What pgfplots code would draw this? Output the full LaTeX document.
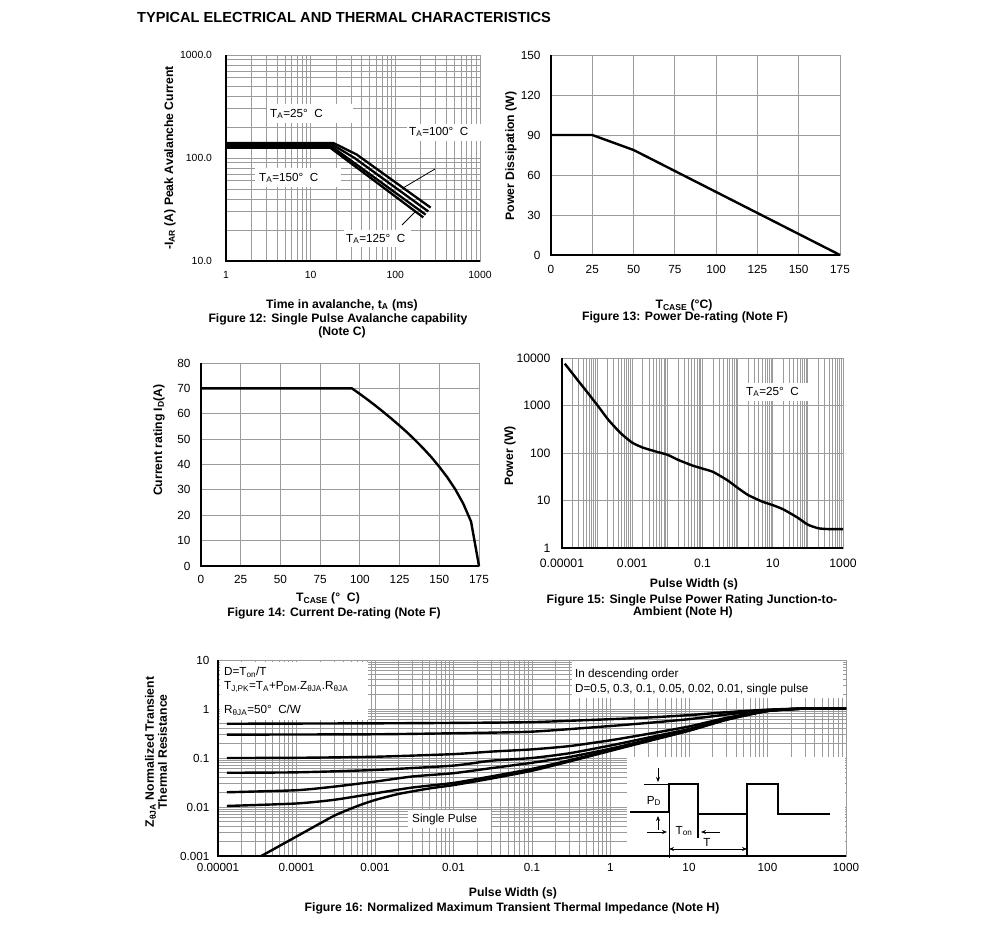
\documentclass[border=0pt]{standalone}
\usepackage{fontspec}
\setmainfont{Liberation Sans}
\usepackage{pgfplots}
\pgfplotsset{compat=1.18}
\usetikzlibrary{arrows.meta}
\definecolor{gridc}{RGB}{155,155,155}
\newcommand\fs{\fontsize{11.7bp}{13bp}\selectfont}
\newcommand\fb{\fontsize{12.2bp}{14bp}\selectfont\bfseries}
\pgfplotsset{
  ds/.style={
    scale only axis, anchor=south west, clip=false,
    axis line style={draw=gridc, line width=0.9bp},
    major grid style={draw=gridc, line width=0.9bp},
    minor grid style={draw=gridc, line width=0.9bp},
    major tick length=0pt, minor tick length=0pt,
    /pgf/number format/assume math mode=true,
  },
  dline/.style={black, line width=2.4bp, line join=round, no marks, smooth, tension=0.35},
}
\def\mxlog{2e-5,3e-5,4e-5,5e-5,6e-5,7e-5,8e-5,9e-5,2e-4,3e-4,4e-4,5e-4,6e-4,7e-4,8e-4,9e-4,0.002,0.003,0.004,0.005,0.006,0.007,0.008,0.009,0.02,0.03,0.04,0.05,0.06,0.07,0.08,0.09,0.2,0.3,0.4,0.5,0.6,0.7,0.8,0.9,2,3,4,5,6,7,8,9,20,30,40,50,60,70,80,90,200,300,400,500,600,700,800,900}
\begin{document}
\begin{tikzpicture}
\path[use as bounding box] (0,0) rectangle (991bp,-930bp);

% ---------- Figure 12
\begin{axis}[ds, at={(226bp,-261bp)}, width=254bp, height=206bp,
  xmode=log, ymode=log, xmin=1, xmax=1000, ymin=10, ymax=1000,
  xtick={1,10,100,1000}, xticklabels={1,10,100,1000},
  ytick={10,100,1000}, yticklabels={10.0,100.0,1000.0},
  minor xtick={2,3,4,5,6,7,8,9,20,30,40,50,60,70,80,90,200,300,400,500,600,700,800,900},
  minor ytick={20,30,40,50,60,70,80,90,200,300,400,500,600,700,800,900},
  grid=both, tick label style={font=\fontsize{10.4bp}{12bp}\selectfont},
  yticklabel style={xshift=-10.5bp}, xticklabel style={yshift=-7bp}]
\addplot[black, line width=2.3bp, line join=round] coordinates {(1,140) (18.5,140) (35,108) (261,33)};
\addplot[black, line width=2.3bp, line join=round] coordinates {(1,135) (18,135) (33,100) (245,30.3)};
\addplot[black, line width=2.3bp, line join=round] coordinates {(1,130) (17.5,130) (228,28.2)};
\addplot[black, line width=2.3bp, line join=round] coordinates {(1,126) (17,126) (214,26.5)};
\end{axis}

% ---------- Figure 13
\begin{axis}[ds, at={(551bp,-255bp)}, width=289bp, height=200bp,
  xmin=0, xmax=175, ymin=0, ymax=150,
  xtick={0,25,...,175}, ytick={0,30,...,150}, grid=major,
  tick label style={font=\fontsize{11.8bp}{13bp}\selectfont},
  yticklabel style={xshift=-7bp}, xticklabel style={yshift=-7bp}]
\addplot[black, line width=2.4bp, line join=round] coordinates {(0,90) (25,90) (50,78.75) (175,0)};
\end{axis}

% ---------- Figure 14
\begin{axis}[ds, at={(201bp,-566bp)}, width=278bp, height=203bp,
  xmin=0, xmax=175, ymin=0, ymax=80,
  xtick={0,25,...,175}, ytick={0,10,...,80}, grid=major,
  tick label style={font=\fontsize{11.8bp}{13bp}\selectfont},
  yticklabel style={xshift=-7bp}, xticklabel style={yshift=-6bp}]
\addplot[black, line width=2.4bp, line join=round] coordinates {(0,70) (95,70) (100,67.8) (105,65.5) (110,63.1) (115,60.6) (120,58.0) (125,55.3) (130,52.5) (135,49.5) (140,46.3) (145,42.9) (150,39.1) (155,35.0) (160,30.3) (165,24.7) (170,17.5) (175,0)};
\end{axis}

% ---------- Figure 15
\begin{axis}[ds, at={(562bp,-548bp)}, width=281bp, height=190bp,
  xmode=log, ymode=log, xmin=1e-5, xmax=1000, ymin=1, ymax=10000,
  xtick={1e-5,1e-4,1e-3,1e-2,0.1,1,10,100,1000},
  xticklabels={0.00001,,0.001,,0.1,,10,,1000},
  ytick={1,10,100,1000,10000}, yticklabels={1,10,100,1000,10000},
  minor xtick/.expand once={\mxlog},
  xmajorgrids, xminorgrids, ymajorgrids,
  tick label style={font=\fontsize{12.2bp}{13bp}\selectfont},
  yticklabel style={xshift=-8bp}, xticklabel style={yshift=-7bp}]
\addplot[dline] coordinates {(1.2e-5,7600) (2e-5,4700) (3e-5,3200) (5e-5,1990) (1e-4,1030) (2e-4,520) (3e-4,370) (5e-4,250) (1e-3,165) (2e-3,130) (5e-3,106) (1e-2,92) (2e-2,72) (5e-2,55) (0.1,47) (0.2,40) (0.5,27) (1,18.5) (2,13) (5,9.5) (10,8) (20,6.5) (50,4.4) (100,3.1) (200,2.6) (400,2.5) (1000,2.5)};
\end{axis}

% ---------- Figure 16
\begin{axis}[ds, at={(218bp,-856bp)}, width=628bp, height=196bp,
  xmode=log, ymode=log, xmin=1e-5, xmax=1000, ymin=0.001, ymax=10,
  xtick={1e-5,1e-4,1e-3,1e-2,0.1,1,10,100,1000},
  xticklabels={0.00001,0.0001,0.001,0.01,0.1,1,10,100,1000},
  ytick={0.001,0.01,0.1,1,10}, yticklabels={0.001,0.01,0.1,1,10},
  minor xtick/.expand once={\mxlog},
  minor ytick={0.002,0.003,0.004,0.005,0.006,0.007,0.008,0.009,0.02,0.03,0.04,0.05,0.06,0.07,0.08,0.09,0.2,0.3,0.4,0.5,0.6,0.7,0.8,0.9,2,3,4,5,6,7,8,9},
  grid=both, tick label style={font=\fontsize{11.7bp}{13bp}\selectfont},
  xticklabel style={yshift=-4bp}, yticklabel style={xshift=-5bp}]
\addplot[dline] coordinates {(1.3e-5,0.5) (1e-3,0.51) (1e-2,0.52) (0.1,0.54) (1,0.62) (3,0.67) (10,0.75) (30,0.86) (100,0.97) (300,1.02) (1000,1.02)};
\addplot[dline] coordinates {(1.3e-5,0.3) (1e-3,0.305) (1e-2,0.32) (0.1,0.345) (1,0.45) (3,0.52) (10,0.62) (30,0.77) (100,0.95) (300,1.02) (1000,1.02)};
\addplot[dline] coordinates {(1.3e-5,0.1) (1e-4,0.101) (1e-3,0.106) (1e-2,0.12) (3e-2,0.135) (0.1,0.15) (0.3,0.175) (1,0.23) (3,0.31) (10,0.44) (30,0.66) (100,0.93) (300,1.02) (1000,1.02)};
\addplot[dline] coordinates {(1.3e-5,0.05) (1e-4,0.051) (1e-3,0.057) (1e-2,0.07) (3e-2,0.088) (0.1,0.1) (0.3,0.125) (1,0.18) (3,0.26) (10,0.39) (30,0.63) (100,0.92) (300,1.02) (1000,1.02)};
\addplot[dline] coordinates {(1.3e-5,0.02) (1e-4,0.022) (3e-4,0.026) (1e-3,0.033) (3e-3,0.042) (1e-2,0.049) (3e-2,0.062) (0.1,0.08) (0.3,0.105) (1,0.155) (3,0.235) (10,0.375) (30,0.62) (100,0.91) (300,1.02) (1000,1.02)};
\addplot[dline] coordinates {(1.3e-5,0.0105) (1e-4,0.0118) (3e-4,0.014) (1e-3,0.019) (3e-3,0.025) (1e-2,0.031) (3e-2,0.042) (0.1,0.06) (0.3,0.09) (1,0.145) (3,0.225) (10,0.365) (30,0.61) (100,0.91) (300,1.02) (1000,1.02)};
\addplot[dline] coordinates {(3.56e-5,0.001) (1e-4,0.0025) (3e-4,0.0066) (6e-4,0.0105) (1e-3,0.0139) (2e-3,0.0185) (5e-3,0.024) (1e-2,0.028) (3e-2,0.038) (0.1,0.055) (0.3,0.085) (1,0.14) (3,0.22) (10,0.36) (30,0.6) (100,0.91) (300,1.02) (1000,1.02)};
\end{axis}

\begin{scope}[x=1bp, y=-1bp]
% title
\node[anchor=west, font=\fontsize{14.6bp}{16bp}\selectfont\bfseries, inner sep=0] at (137,17) {TYPICAL ELECTRICAL AND THERMAL CHARACTERISTICS};

% ----- Fig 12 annotations
\fill[white] (267,104) rectangle (353,123);
\node[anchor=west, font=\fs, inner sep=0] at (270,114) {T\textsubscript{A}=25°~~C};
\fill[white] (407,124) rectangle (483,141);
\node[anchor=west, font=\fs, inner sep=0] at (409,132) {T\textsubscript{A}=100°~~C};
\fill[white] (255,168) rectangle (341,187);
\node[anchor=west, font=\fs, inner sep=0] at (259,178) {T\textsubscript{A}=150°~~C};
\fill[white] (344,230) rectangle (411,247);
\node[anchor=west, font=\fs, inner sep=0] at (346,239) {T\textsubscript{A}=125°~~C};
\draw[line width=0.8bp] (435,169) -- (403,188);
\draw[line width=0.8bp] (415,212) -- (402,225);
\draw[line width=2.5bp] (226,55) -- (226,261) -- (480,261);
\node[rotate=90, font=\fb] at (170,158) {-I\textsubscript{AR} (A) Peak Avalanche Current};
\node[font=\fb] at (342,305) {Time in avalanche, t\textsubscript{A} (ms)};
\node[font=\fb] at (338,319) {Figure 12: Single Pulse Avalanche capability};
\node[font=\fb] at (342,332) {(Note C)};

% ----- Fig 13
\draw[line width=2.5bp] (551,55) -- (551,255) -- (840,255);
\node[rotate=90, font=\fb] at (511,156) {Power Dissipation (W)};
\node[font=\fb] at (684,305) {T\textsubscript{CASE} (°C)};
\node[font=\fb] at (685,317) {Figure 13: Power De-rating (Note F)};

% ----- Fig 14
\draw[line width=2.5bp] (201,363) -- (201,566) -- (479,566);
\node[rotate=90, font=\fb] at (159,440) {Current rating I\textsubscript{D}(A)};
\node[font=\fb] at (328,598) {T\textsubscript{CASE} (°~~C)};
\node[font=\fb] at (334,613) {Figure 14: Current De-rating (Note F)};

% ----- Fig 15
\fill[white] (744,383) rectangle (810,401);
\node[anchor=west, font=\fs, inner sep=0] at (746,392) {T\textsubscript{A}=25°~~C};
\draw[line width=2.5bp] (562,358) -- (562,548) -- (843,548);
\node[rotate=90, font=\fb] at (510,456) {Power (W)};
\node[font=\fb] at (694,584) {Pulse Width (s)};
\node[font=\fb] at (692,600) {Figure 15: Single Pulse Power Rating Junction-to-};
\node[font=\fb] at (683,612) {Ambient (Note H)};

% ----- Fig 16
\fill[white] (220,662) rectangle (368,720);
\node[anchor=west, font=\fs, inner sep=0] at (224,672) {D=T\textsubscript{on}/T};
\node[anchor=west, font=\fs, inner sep=0] at (224,687) {T\textsubscript{J,PK}=T\textsubscript{A}+P\textsubscript{DM}.Z\textsubscript{θJA}.R\textsubscript{θJA}};
\node[anchor=west, font=\fs, inner sep=0] at (224,710) {R\textsubscript{θJA}=50°~~C/W};
\fill[white] (572,661) rectangle (843,698);
\node[anchor=west, font=\fs, inner sep=0] at (575,674) {In descending order};
\node[anchor=west, font=\fs, inner sep=0] at (575,689) {D=0.5, 0.3, 0.1, 0.05, 0.02, 0.01, single pulse};
\fill[white] (408,810) rectangle (491,828);
\node[anchor=west, font=\fs, inner sep=0] at (412,819) {Single Pulse};
\fill[white] (627,757) rectangle (844.5,855);
% waveform
\draw[line width=2.4bp] (630,812) -- (669,812) -- (669,784) -- (698,784) -- (698,838);
\draw[line width=2.4bp] (698,814) -- (747,814);
\draw[line width=2.4bp] (747,855) -- (747,784) -- (778,784) -- (778,814) -- (830,814);
\draw[line width=0.8bp] (644,784) -- (669,784);
\draw[line width=0.8bp] (669,812) -- (669,858);
\draw[line width=0.8bp, -{Stealth[length=5bp,width=4bp]}] (658,768) -- (658,782);
\draw[line width=0.8bp, -{Stealth[length=5bp,width=4bp]}] (658,830) -- (658,816);
\draw[line width=0.8bp, -{Stealth[length=5bp,width=4bp]}] (647,832) -- (667,832);
\draw[line width=0.8bp, -{Stealth[length=5bp,width=4bp]}] (720,832) -- (701,832);
\draw[line width=0.8bp, {Stealth[length=5bp,width=4bp]}-{Stealth[length=5bp,width=4bp]}] (669,849) -- (747,849);
\node[font=\fs] at (654,801) {P\textsubscript{D}};
\node[font=\fs] at (684,831) {T\textsubscript{on}};
\node[font=\fs] at (707,842) {T};
\draw[line width=2.5bp] (218,660) -- (218,856) -- (846,856);
\node[rotate=90, font=\fb, align=center, inner sep=0] at (156,752) {Z\textsubscript{θJA} Normalized Transient\\[-1bp]Thermal Resistance};
\node[font=\fb] at (513,893) {Pulse Width (s)};
\node[font=\fb] at (512,908) {Figure 16: Normalized Maximum Transient Thermal Impedance (Note H)};
\end{scope}
\end{tikzpicture}
\end{document}
